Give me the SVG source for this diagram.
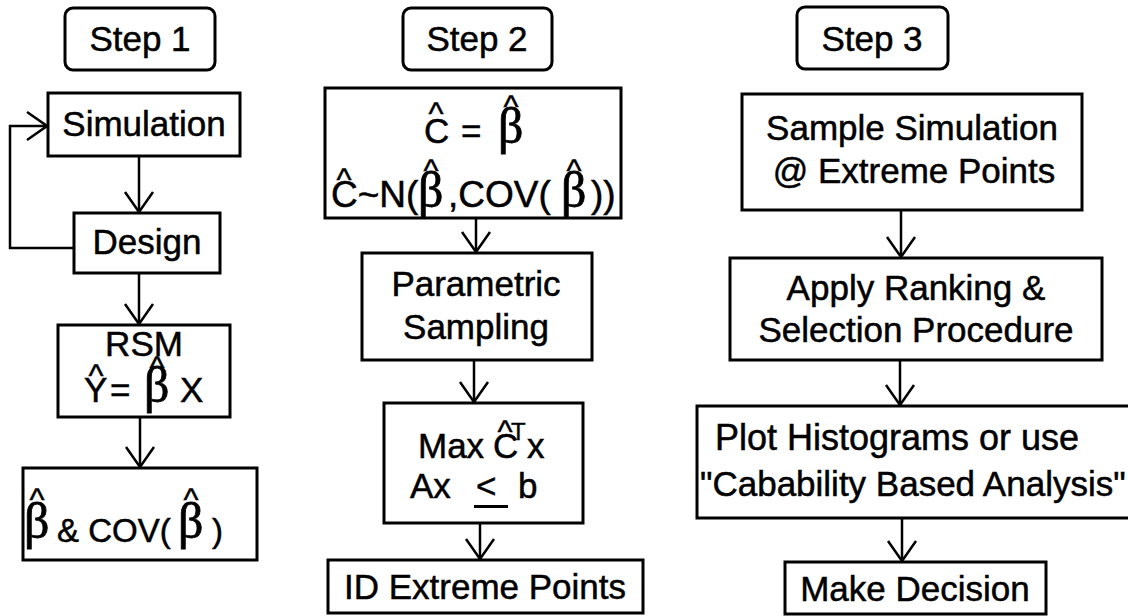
<svg xmlns="http://www.w3.org/2000/svg" width="1128" height="616" viewBox="0 0 1128 616">
<style>
.box{fill:#fff;stroke:#000;stroke-width:3}
.t{font-family:"Liberation Sans",Arial,sans-serif;font-size:35px;fill:#000;stroke:#000;stroke-width:0.5}
.c{text-anchor:middle}
.b{font-family:"Liberation Serif","Times New Roman",serif;font-size:50px;fill:#000;stroke:#000;stroke-width:0.8}
.h{font-family:"Liberation Sans",Arial,sans-serif;font-size:32px;fill:#000;text-anchor:middle;stroke:#000;stroke-width:0.5}
.sup{font-family:"Liberation Sans",Arial,sans-serif;font-size:24px;fill:#000;stroke:#000;stroke-width:0.4}
.ln{fill:none;stroke:#000;stroke-width:2.5}
</style>
<defs>
<marker id="arr" viewBox="-22 -16 24 32" markerWidth="24" markerHeight="32" refX="0" refY="0" orient="auto" markerUnits="userSpaceOnUse">
<path d="M-20,-14 L0,0 L-20,14" fill="none" stroke="#000" stroke-width="2.5"/>
</marker>
</defs>
<rect width="1128" height="616" fill="#fff"/>

<g id="connectors">
<line class="ln" x1="139" y1="156" x2="139" y2="212" marker-end="url(#arr)"/>
<polyline class="ln" points="74,248 10,248 10,126 47,126" marker-end="url(#arr)"/>
<line class="ln" x1="139" y1="273" x2="139" y2="324" marker-end="url(#arr)"/>
<line class="ln" x1="140" y1="417" x2="140" y2="467" marker-end="url(#arr)"/>
<line class="ln" x1="476" y1="218" x2="476" y2="252" marker-end="url(#arr)"/>
<line class="ln" x1="474" y1="360" x2="474" y2="402" marker-end="url(#arr)"/>
<line class="ln" x1="480" y1="523" x2="480" y2="559" marker-end="url(#arr)"/>
<line class="ln" x1="901" y1="210" x2="901" y2="257" marker-end="url(#arr)"/>
<line class="ln" x1="900" y1="360" x2="900" y2="405" marker-end="url(#arr)"/>
<line class="ln" x1="902" y1="518" x2="902" y2="561" marker-end="url(#arr)"/>
</g>

<g id="step1">
<rect class="box" x="65" y="8" width="150" height="62" rx="8"/>
<text class="t c" x="140" y="51">Step 1</text>
</g>
<g id="simulation">
<rect class="box" x="48" y="93" width="192" height="63"/>
<text class="t c" x="144" y="136">Simulation</text>
</g>
<g id="design">
<rect class="box" x="74" y="213" width="146" height="60"/>
<text class="t c" x="147" y="254">Design</text>
</g>
<g id="rsm">
<rect class="box" x="58" y="325" width="172" height="92"/>
<text class="t c" x="144" y="356">RSM</text>
<text class="t" x="84" y="402">Y</text>
<text class="h" x="96" y="386">^</text>
<text class="t" x="110" y="402">=</text>
<text class="b" x="144" y="402">β</text>
<text class="h" x="157" y="378">^</text>
<text class="t" x="180" y="402">X</text>
</g>
<g id="beta-cov">
<rect class="box" x="23" y="468" width="234" height="92"/>
<text class="b" x="24" y="538">β</text>
<text class="h" x="37" y="510">^</text>
<text class="t" x="57" y="542" style="font-size:33px">&amp; COV(</text>
<text class="b" x="178" y="538">β</text>
<text class="h" x="191" y="510">^</text>
<text class="t" x="212" y="542" style="font-size:33px">)</text>
</g>

<g id="step2">
<rect class="box" x="403" y="8" width="149" height="62" rx="8"/>
<text class="t c" x="477" y="51">Step 2</text>
</g>
<g id="c-beta">
<rect class="box" x="325" y="88" width="296" height="130"/>
<text class="t" x="424" y="143">C</text>
<text class="h" x="436" y="124">^</text>
<text class="t" x="461" y="143">=</text>
<text class="b" x="498" y="143">β</text>
<text class="h" x="511" y="117">^</text>
<text class="t" x="331" y="207" style="font-size:37px">C~N(</text>
<text class="h" x="344" y="190">^</text>
<text class="b" x="418" y="207">β</text>
<text class="h" x="431" y="181">^</text>
<text class="t" x="448" y="207" style="font-size:37px">,COV(</text>
<text class="b" x="561" y="207">β</text>
<text class="h" x="574" y="181">^</text>
<text class="t" x="591" y="207" style="font-size:37px">))</text>
</g>
<g id="parametric">
<rect class="box" x="362" y="253" width="230" height="107"/>
<text class="t c" x="476" y="296">Parametric</text>
<text class="t c" x="476" y="339">Sampling</text>
</g>
<g id="max">
<rect class="box" x="384" y="403" width="199" height="120"/>
<text class="t" x="418" y="458">Max</text>
<text class="t" x="493" y="458">C</text>
<text class="h" x="505" y="442">^</text>
<text class="sup" x="511" y="440">T</text>
<text class="t" x="527" y="458">x</text>
<text class="t" x="410" y="498">Ax</text>
<text class="t" x="476" y="498">&lt;</text>
<rect x="474" y="505" width="34" height="3" fill="#000"/>
<text class="t" x="518" y="498">b</text>
</g>
<g id="id-extreme">
<rect class="box" x="328" y="560" width="315" height="53"/>
<text class="t c" x="485" y="599">ID Extreme Points</text>
</g>

<g id="step3">
<rect class="box" x="797" y="7" width="151" height="62" rx="8"/>
<text class="t c" x="872" y="51">Step 3</text>
</g>
<g id="sample">
<rect class="box" x="742" y="94" width="340" height="116"/>
<text class="t c" x="912" y="140">Sample Simulation</text>
<text class="t c" x="914" y="183">@ Extreme Points</text>
</g>
<g id="apply">
<rect class="box" x="730" y="258" width="372" height="102"/>
<text class="t c" x="916" y="300">Apply Ranking &amp;</text>
<text class="t c" x="916" y="342">Selection Procedure</text>
</g>
<g id="plot">
<rect class="box" x="697" y="406" width="440" height="112"/>
<text class="t" x="715" y="450" style="font-size:36px">Plot Histograms or use</text>
<text class="t" x="700" y="496">"Cabability Based Analysis"</text>
</g>
<g id="decision">
<rect class="box" x="785" y="562" width="261" height="52"/>
<text class="t c" x="915" y="601">Make Decision</text>
</g>
</svg>
